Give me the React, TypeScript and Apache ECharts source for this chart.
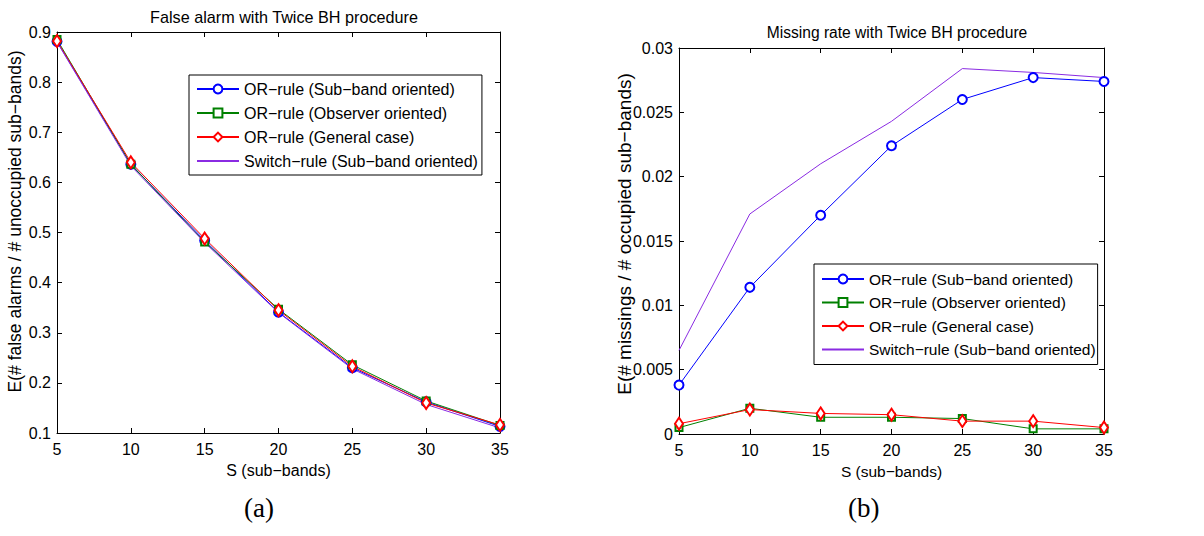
import React, { useEffect, useRef } from "react";
import * as echarts from "echarts";

const sValues = [5, 10, 15, 20, 25, 30, 35];
const seriesNames = [
  "OR\u2212rule (Sub\u2212band oriented)",
  "OR\u2212rule (Observer oriented)",
  "OR\u2212rule (General case)",
  "Switch\u2212rule (Sub\u2212band oriented)",
];
const faSubband = [0.881, 0.636, 0.484, 0.341, 0.23, 0.162, 0.113];
const faObserver = [0.885, 0.636, 0.481, 0.347, 0.236, 0.164, 0.115];
const faGeneral = [0.882, 0.64, 0.488, 0.345, 0.233, 0.16, 0.116];
const faSwitch = [0.88, 0.633, 0.48, 0.34, 0.228, 0.157, 0.11];
const missSubband = [0.0038, 0.0114, 0.017, 0.0224, 0.026, 0.0277, 0.0274];
const missObserver = [0.0005, 0.002, 0.0013, 0.0013, 0.0012, 0.0004, 0.0004];
const missGeneral = [0.0008, 0.0019, 0.0016, 0.0015, 0.001, 0.001, 0.0005];
const missSwitch = [0.0065, 0.0171, 0.021, 0.0243, 0.0284, 0.0281, 0.0277];

const colors = ["#0000ff", "#008000", "#ff0000", "#8a2be2"];
const symbols = ["emptyCircle", "emptyRect", "emptyDiamond", "emptyCircle"];
const symbolSizes: any[] = [9, 7, [8, 12], 0];

const FONT = "Liberation Sans";

export default function App() {
  const ref = useRef<HTMLDivElement>(null);
  useEffect(() => {
    if (!ref.current) return;
    const chart = echarts.init(ref.current, null, { renderer: "svg" });
    const grids = [
      { left: 57, top: 32, width: 443, height: 401 },
      { left: 679, top: 48, width: 425, height: 386 },
    ];
    const yCfg = [
      { min: 0.1, max: 0.9, interval: 0.1, fmt: (v: number) => String(+v.toFixed(1)) },
      { min: 0, max: 0.03, interval: 0.005, fmt: (v: number) => String(+v.toFixed(3)) },
    ];
    const tick = { inside: true, length: 5, lineStyle: { color: "#000" } };
    const axisLine = { show: true, onZero: false, lineStyle: { color: "#000", width: 1 } };
    const xNameSize = [16, 15.5];
    const xAxis: any[] = [];
    const yAxis: any[] = [];
    for (let g = 0; g < 2; g++) {
      xAxis.push({
        type: "value", gridIndex: g, min: 5, max: 35, interval: 5, position: "bottom",
        axisLine, axisTick: tick, splitLine: { show: false },
        axisLabel: { color: "#000", fontSize: 16, fontFamily: FONT, margin: 8 },
        name: "S (sub\u2212bands)", nameLocation: "middle", nameGap: 29,
        nameTextStyle: { color: "#000", fontSize: xNameSize[g], fontFamily: FONT },
      });
      yAxis.push({
        type: "value", gridIndex: g, min: yCfg[g].min, max: yCfg[g].max, interval: yCfg[g].interval,
        position: "left", axisLine, axisTick: tick, splitLine: { show: false },
        axisLabel: { color: "#000", fontSize: 16, fontFamily: FONT, margin: 6, formatter: yCfg[g].fmt },
      });
    }
    for (let g = 0; g < 2; g++) {
      xAxis.push({
        type: "value", gridIndex: g, min: 5, max: 35, interval: 5, position: "top",
        axisLine, axisTick: tick, axisLabel: { show: false }, splitLine: { show: false },
      });
      yAxis.push({
        type: "value", gridIndex: g, min: yCfg[g].min, max: yCfg[g].max, interval: yCfg[g].interval,
        position: "right", axisLine, axisTick: tick, axisLabel: { show: false }, splitLine: { show: false },
      });
    }
    const dataSets = [
      [faSubband, faObserver, faGeneral, faSwitch],
      [missSubband, missObserver, missGeneral, missSwitch],
    ];
    const series: any[] = [];
    for (let g = 0; g < 2; g++) {
      dataSets[g].forEach((vals, i) => {
        series.push({
          type: "line", name: seriesNames[i], xAxisIndex: g, yAxisIndex: g,
          data: sValues.map((s, k) => [s, vals[k]]),
          symbol: symbols[i], symbolSize: symbolSizes[i], showSymbol: i < 3,
          color: colors[i],
          lineStyle: { color: colors[i], width: 1 },
          itemStyle: { color: colors[i], borderColor: colors[i], borderWidth: 1 },
          emphasis: { disabled: true },
        });
      });
    }
    const legendData = seriesNames.map((n, i) =>
      i === 3 ? { name: n, itemStyle: { opacity: 0 } } : { name: n }
    );
    const legendBase = {
      orient: "vertical", data: legendData, itemWidth: 42, itemHeight: 11,
      borderColor: "#000", borderWidth: 1, backgroundColor: "#fff",
      textStyle: { color: "#000", fontFamily: FONT },
      selectedMode: false,
    };
    const ttl = { fontWeight: "normal", color: "#000", fontFamily: FONT };
    chart.setOption({
      animation: false,
      backgroundColor: "#fff",
      title: [
        { text: "False alarm with Twice BH procedure", left: 279, top: 4, textAlign: "center",
          textStyle: { ...ttl, fontSize: 16.2 } },
        { text: "Missing rate with Twice BH procedure", left: 892, top: 19, textAlign: "center",
          textStyle: { ...ttl, fontSize: 15.6 } },
      ],
      grid: grids.map((g) => ({ ...g, show: false, containLabel: false })),
      xAxis, yAxis, series,
      legend: [
        { ...legendBase, left: 189, top: 75, itemGap: 8, padding: [6, 4, 6, 7],
          textStyle: { ...legendBase.textStyle, fontSize: 16 } },
        { ...legendBase, left: 814, top: 264, itemGap: 7.5, padding: [7, 2, 7, 7],
          textStyle: { ...legendBase.textStyle, fontSize: 15.5 } },
      ],
      graphic: [
        { type: "text", x: 15, y: 221.5, rotation: Math.PI / 2,
          style: { text: "E(# false alarms / # unoccupied sub\u2212bands)", fontSize: 17.5, fontFamily: FONT,
            fill: "#000", textAlign: "center", textVerticalAlign: "middle" } },
        { type: "text", x: 624, y: 234, rotation: Math.PI / 2,
          style: { text: "E(# missings / # occupied sub\u2212bands)", fontSize: 19, fontFamily: FONT,
            fill: "#000", textAlign: "center", textVerticalAlign: "middle" } },
        { type: "text", left: 244, top: 494, style: { text: "(a)", fontSize: 27, fontFamily: "Liberation Serif", fill: "#000" } },
        { type: "text", left: 848, top: 494, style: { text: "(b)", fontSize: 27, fontFamily: "Liberation Serif", fill: "#000" } },
      ],
    });
    return () => chart.dispose();
  }, []);
  return <div ref={ref} style={{ position: "absolute", left: 0, top: 0, width: 1204, height: 536 }} />;
}
